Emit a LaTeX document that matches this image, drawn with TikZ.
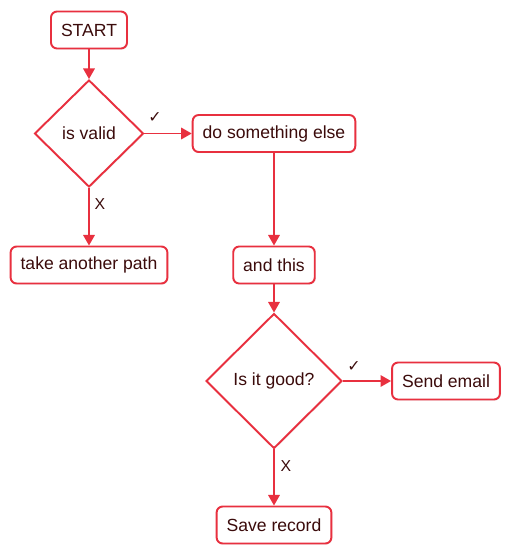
\documentclass[tikz,border=0pt]{standalone}
\usepackage{fontspec}
\setmainfont{Liberation Sans}
\newfontfamily\symfont{DejaVu Sans}
\usetikzlibrary{shapes.geometric,arrows.meta,shadows}
\definecolor{flowred}{HTML}{E8303F}
\definecolor{flowtext}{HTML}{3B0B0B}
\begin{document}
\begin{tikzpicture}[>={Triangle[length=6pt,width=6.5pt]}]
		\tikzset{recstyle/.style={rectangle, draw=flowred, fill=white, line width=1.1pt, text=flowtext, minimum height=7.4mm, inner xsep=2mm, rounded corners=.12cm, drop shadow={opacity=0.12, shadow xshift=0.6pt, shadow yshift=-0.6pt}},
			decstyle/.style={diamond, draw=flowred, fill=white, line width=1.1pt, text=flowtext, inner sep=1pt, drop shadow={opacity=0.12, shadow xshift=0.6pt, shadow yshift=-0.6pt}},
			arrstyle/.style={->, draw=flowred, fill=flowred, line width=1.1pt},
			labstyle/.style={text=flowtext, font=\small}}
		\useasboundingbox (0,0) rectangle (10.2,-11.1);
		
		\node[recstyle] (rectstart) at (1.78,-0.60) {START};
		\node[decstyle, minimum width=2.18cm, minimum height=2.14cm] (decvalid) at (1.78,-2.67) {is valid};
		\node[recstyle] (rectelse) at (5.48,-2.67) {do something else};
		\node[recstyle] (rectpath) at (1.78,-5.30) {take another path};
		\node[recstyle] (rectthis) at (5.48,-5.30) {and this};
		\node[decstyle, minimum width=2.72cm, minimum height=2.70cm] (decgood) at (5.48,-7.62) {Is it good?};
		\node[recstyle] (rectemail) at (8.92,-7.62) {Send email};
		\node[recstyle] (rectsave) at (5.48,-10.50) {Save record};
		
		\draw [arrstyle] (rectstart) to (decvalid);
		\draw [arrstyle] (decvalid) to (rectelse);
		\node[labstyle] (labvalidyes) at (3.10,-2.36) {\symfont ✓};
		\draw [arrstyle] (decvalid) to (rectpath);
		\node[labstyle] (labvalidno) at (2.00,-4.08) {X};
		\draw [arrstyle] (rectelse) to (rectthis);
		\draw [arrstyle] (rectthis) to (decgood);
		\draw [arrstyle] (decgood) to (rectemail);
		\node[labstyle] (labgoodyes) at (7.08,-7.34) {\symfont ✓};
		\draw [arrstyle] (decgood) to (rectsave);
		\node[labstyle] (labgoodno) at (5.72,-9.32) {X};
		
		\end{tikzpicture}
\end{document}
